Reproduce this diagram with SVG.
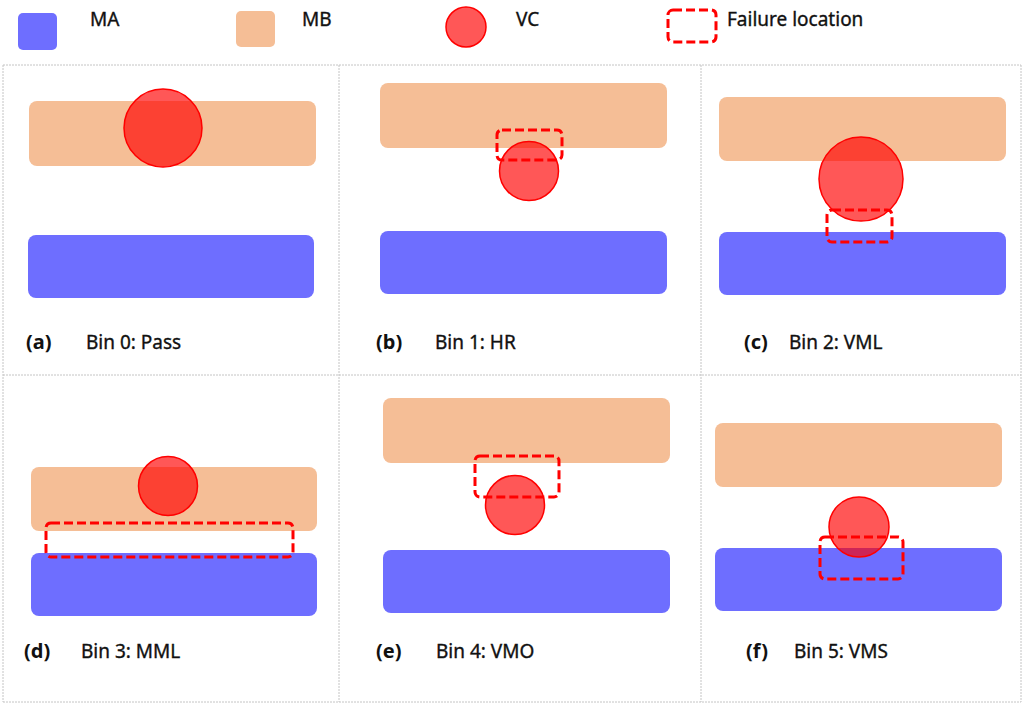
<svg xmlns="http://www.w3.org/2000/svg" width="1024" height="706" viewBox="0 0 1024 706">
<style>
.ma{fill:#6e6eff}
.mb{fill:#f5be96}
.vc{fill:#ff0000;fill-opacity:0.66;stroke:#ff0000;stroke-width:1.5}
.fl{fill:none;stroke:#ff0000;stroke-width:3;stroke-dasharray:9 4}
.grid{stroke:#c4c4c4;stroke-width:1;stroke-dasharray:2 1;fill:none}
.t{font-family:"Noto Sans","Liberation Sans",sans-serif;font-size:19px;fill:#111;stroke:#111;stroke-width:0.35}
.lb{font-family:"Noto Sans","Liberation Sans",sans-serif;font-size:20px;font-weight:bold;fill:#111}
</style>
<rect width="1024" height="706" fill="#ffffff"/>
<g id="legend">
<rect class="ma" x="18" y="13" width="39" height="37" rx="5"/>
<text class="t" x="90" y="26">MA</text>
<rect class="mb" x="236" y="11" width="39" height="36" rx="5"/>
<text class="t" x="302" y="26">MB</text>
<circle class="vc" cx="466" cy="27" r="20"/>
<text class="t" x="516" y="26">VC</text>
<rect class="fl" x="668" y="10" width="48" height="32" rx="5"/>
<text class="t" x="727" y="26">Failure location</text>
</g>
<g id="grid">
<line class="grid" x1="3" y1="65" x2="1021" y2="65"/>
<line class="grid" x1="3" y1="375" x2="1021" y2="375"/>
<line class="grid" x1="3" y1="702" x2="1021" y2="702"/>
<line class="grid" x1="3" y1="65" x2="3" y2="702"/>
<line class="grid" x1="339" y1="65" x2="339" y2="702"/>
<line class="grid" x1="701" y1="65" x2="701" y2="702"/>
<line class="grid" x1="1021" y1="65" x2="1021" y2="702"/>
</g>
<g id="panel-a">
<rect class="mb" x="29" y="101" width="287" height="65" rx="8"/>
<rect class="ma" x="28" y="235" width="286" height="63" rx="8"/>
<circle class="vc" cx="163" cy="128" r="39"/>
<text class="lb" x="26" y="349">(a)</text>
<text class="t" x="86" y="349">Bin 0: Pass</text>
</g>
<g id="panel-b">
<rect class="mb" x="380" y="83" width="287" height="65" rx="8"/>
<rect class="ma" x="380" y="231" width="287" height="63" rx="8"/>
<circle class="vc" cx="529" cy="171" r="29.5"/>
<rect class="fl" x="497" y="130" width="65" height="30" rx="5"/>
<text class="lb" x="376" y="349">(b)</text>
<text class="t" x="435" y="349">Bin 1: HR</text>
</g>
<g id="panel-c">
<rect class="mb" x="719" y="97" width="287" height="64" rx="8"/>
<rect class="ma" x="719" y="232" width="287" height="63" rx="8"/>
<circle class="vc" cx="861" cy="179" r="42"/>
<rect class="fl" x="827" y="210" width="65" height="32" rx="5"/>
<text class="lb" x="744" y="349">(c)</text>
<text class="t" x="789" y="349">Bin 2: VML</text>
</g>
<g id="panel-d">
<rect class="mb" x="31" y="467" width="286" height="64" rx="8"/>
<rect class="ma" x="31" y="553" width="286" height="63" rx="8"/>
<circle class="vc" cx="168" cy="486" r="29.5"/>
<rect class="fl" x="46" y="523" width="247" height="34" rx="5"/>
<text class="lb" x="24" y="658">(d)</text>
<text class="t" x="81" y="658">Bin 3: MML</text>
</g>
<g id="panel-e">
<rect class="mb" x="383" y="398" width="287" height="65" rx="8"/>
<rect class="ma" x="383" y="550" width="287" height="63" rx="8"/>
<circle class="vc" cx="515" cy="505" r="29.5"/>
<rect class="fl" x="475" y="456" width="84" height="41" rx="5"/>
<text class="lb" x="376" y="658">(e)</text>
<text class="t" x="436" y="658">Bin 4: VMO</text>
</g>
<g id="panel-f">
<rect class="mb" x="715" y="423" width="287" height="64" rx="8"/>
<rect class="ma" x="715" y="548" width="287" height="63" rx="8"/>
<circle class="vc" cx="859" cy="527" r="30"/>
<rect class="fl" x="820" y="537" width="83" height="42" rx="5"/>
<text class="lb" x="746" y="658">(f)</text>
<text class="t" x="794" y="658">Bin 5: VMS</text>
</g>
</svg>
